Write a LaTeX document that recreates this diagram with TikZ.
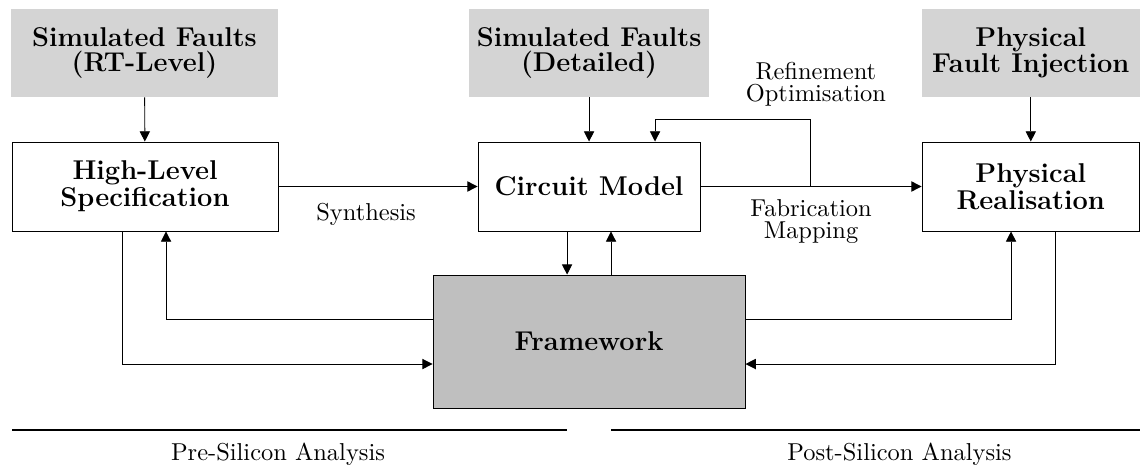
\documentclass[tikz,border=0pt]{standalone}
\usetikzlibrary{arrows.meta}

\begin{document}
\begin{tikzpicture}[
  fault/.style={
    fill=black!17,
    minimum height=1.354cm,
    align=center,
    font=\bfseries\fontsize{11.9}{10.6}\selectfont
  },
  stage/.style={
    draw,
    minimum height=1.369cm,
    align=center,
    font=\bfseries\fontsize{11.9}{10.6}\selectfont
  },
  flow/.style={line width=.4pt,-{Triangle[length=4.5pt,width=4.5pt]}},
  note/.style={align=center,font=\fontsize{10.7}{9.6}\selectfont},
  band/.style={line width=1pt}
]
  \useasboundingbox (0,0) rectangle (17.538,-7.169);

  % Fault sources on the top row.
  \node[fault,minimum width=4.108cm] (rtfaults) at (2.223,-0.815)
    {Simulated Faults\\(RT-Level)};
  \node[fault,minimum width=3.415cm] (detfaults) at (9.062,-0.815)
    {Simulated Faults\\(Detailed)};
  \node[fault,minimum width=3.346cm] (physinj) at (15.858,-0.815)
    {Physical\\Fault Injection};

  % Design stages.
  \node[stage,minimum width=4.092cm] (spec) at (2.231,-2.869)
    {High-Level\\Specification};
  \node[stage,minimum width=3.415cm] (circuit) at (9.062,-2.869)
    {Circuit Model};
  \node[stage,minimum width=3.346cm] (physical) at (15.858,-2.869)
    {Physical\\Realisation};
  \node[stage,fill=black!25,minimum width=4.8cm,minimum height=2.046cm]
    (framework) at (9.062,-5.254) {Framework};

  \draw[flow] (rtfaults) -- (spec);
  \draw[flow] (detfaults) -- (circuit);
  \draw[flow] (physinj) -- (physical);

  \draw[flow] (spec) -- node[note,below=4pt,pos=.44] {Synthesis} (circuit);
  \draw[flow] (circuit) -- node[note,below=2pt] {Fabrication\\Mapping} (physical);

  % Refinement loop back into the circuit model.
  \coordinate (fork) at (12.462,-2.869);
  \draw[flow] (fork) -- ++(0,1.038)
    node[note,above=2pt,xshift=.09cm] {Refinement\\Optimisation}
    -| ([xshift=1.015cm]circuit.north);

  % Exchange with the framework.
  \draw[flow] ([xshift=-.338cm]circuit.south)
    -- ([xshift=-.338cm]circuit.south |- framework.north);
  \draw[flow] ([xshift=.338cm]circuit.south |- framework.north)
    -- ([xshift=.338cm]circuit.south);
  \draw[flow] ([yshift=.346cm]framework.west) -| ([xshift=.323cm]spec.south);
  \draw[flow] ([xshift=-.354cm]spec.south) |- ([yshift=-.346cm]framework.west);
  \draw[flow] ([yshift=.346cm]framework.east) -| ([xshift=-.304cm]physical.south);
  \draw[flow] ([xshift=.373cm]physical.south) |- ([yshift=-.346cm]framework.east);

  % Analysis bands.
  \draw[band] (.185,-6.615) -- (8.723,-6.615);
  \draw[band] (9.4,-6.615) -- (17.538,-6.615);
  \node[note] (pre) at (4.277,-6.985) {Pre-Silicon Analysis};
  \node[note] (post) at (13.838,-6.985) {Post-Silicon Analysis};
\end{tikzpicture}
\end{document}
